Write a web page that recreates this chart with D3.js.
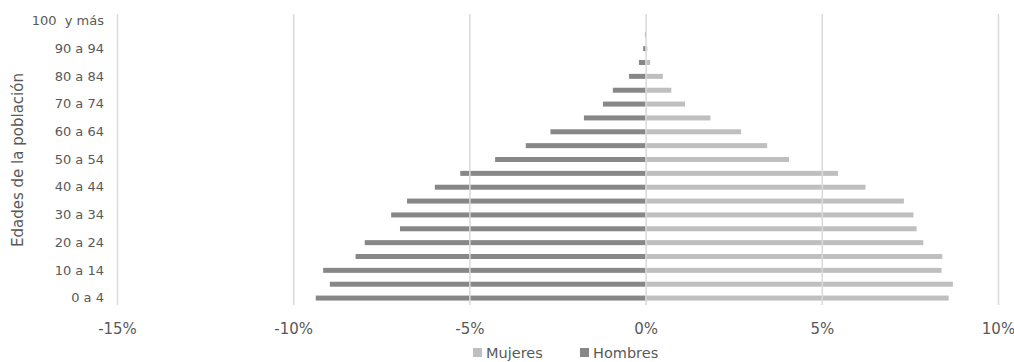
<!DOCTYPE html>
<html>
<head>
<meta charset="utf-8">
<script src="https://cdn.jsdelivr.net/npm/d3@7"></script>
<style>
  html, body { margin: 0; padding: 0; background: #ffffff; }
  svg { display: block; font-family: "DejaVu Sans", sans-serif; }
</style>
</head>
<body>
<svg id="chart" width="1014" height="362"></svg>
<script>
const categories = ["0 a 4","5 a 9","10 a 14","15 a 19","20 a 24","25 a 29","30 a 34","35 a 39","40 a 44","45 a 49","50 a 54","55 a 59","60 a 64","65 a 69","70 a 74","75 a 79","80 a 84","85 a 89","90 a 94","95 a 99","100\u00A0 y más"];
const mujeres = [8.60, 8.72, 8.40, 8.42, 7.88, 7.69, 7.60, 7.33, 6.24, 5.46, 4.07, 3.45, 2.71, 1.84, 1.12, 0.73, 0.49, 0.13, 0.05, 0.01, 0.00];
const hombres = [-9.36, -8.96, -9.15, -8.23, -7.97, -6.97, -7.22, -6.77, -5.98, -5.26, -4.27, -3.40, -2.70, -1.75, -1.21, -0.93, -0.47, -0.19, -0.07, -0.02, 0.00];
const xTicks = [-15, -10, -5, 0, 5, 10];
const seriesNames = ["Mujeres", "Hombres"];
const seriesColors = ["#bfbfbf", "#878787"];

(function () {
const svg = d3.select("#chart");
const pLeft = 117, pRight = 998, pTop = 14, pBottom = 305;
const textColor = "#595959";
const gridColor = "#d9d9d9";

const x = d3.scaleLinear().domain([-15, 10]).range([pLeft, pRight]);
const y = d3.scaleBand().domain(categories).range([pBottom, pTop]);
const barH = 5;

const rows = categories.map((c, i) => ({ c, m: mujeres[i], h: hombres[i] }));
svg.append("g").selectAll("rect").data(rows).join("rect")
  .attr("x", d => x(0))
  .attr("y", d => y(d.c) + y.bandwidth() / 2 - barH / 2)
  .attr("width", d => x(d.m) - x(0))
  .attr("height", barH)
  .attr("fill", seriesColors[0]);
svg.append("g").selectAll("rect").data(rows).join("rect")
  .attr("x", d => x(d.h))
  .attr("y", d => y(d.c) + y.bandwidth() / 2 - barH / 2)
  .attr("width", d => x(0) - x(d.h))
  .attr("height", barH)
  .attr("fill", seriesColors[1]);

const grid = svg.append("g")
  .attr("transform", `translate(0,${pBottom})`)
  .call(d3.axisBottom(x).tickValues(xTicks).tickSize(-(pBottom - pTop)).tickFormat(""));
grid.select(".domain").remove();
grid.selectAll(".tick line").attr("stroke", gridColor).attr("stroke-width", 1.5);

const xa = svg.append("g")
  .attr("transform", `translate(0,${pBottom})`)
  .call(d3.axisBottom(x).tickValues(xTicks).tickSize(0).tickPadding(18).tickFormat(d => d + "%"));
xa.select(".domain").remove();
xa.selectAll("text").attr("fill", textColor).style("font-size", "15px").style("font-family", "DejaVu Sans, sans-serif");

const ya = svg.append("g")
  .attr("transform", `translate(${pLeft},0)`)
  .call(d3.axisLeft(y).tickValues(categories.filter((c, i) => i % 2 === 0)).tickSize(0).tickPadding(13));
ya.select(".domain").remove();
ya.selectAll("text").attr("fill", textColor).style("font-size", "13px").style("font-family", "DejaVu Sans, sans-serif");

svg.append("text")
  .attr("transform", `translate(23,160) rotate(-90)`)
  .attr("text-anchor", "middle")
  .attr("fill", textColor)
  .style("font-size", "15px")
  .text("Edades de la población");

const legendItems = [
  { name: seriesNames[0], color: seriesColors[0], x: 473 },
  { name: seriesNames[1], color: seriesColors[1], x: 580 }
];
const lg = svg.append("g");
legendItems.forEach(it => {
  lg.append("rect").attr("x", it.x).attr("y", 348).attr("width", 9).attr("height", 9).attr("fill", it.color);
  lg.append("text").attr("x", it.x + 13).attr("y", 357.5)
    .attr("fill", textColor).style("font-size", "14.5px").text(it.name);
});
})();
</script>
</body>
</html>
